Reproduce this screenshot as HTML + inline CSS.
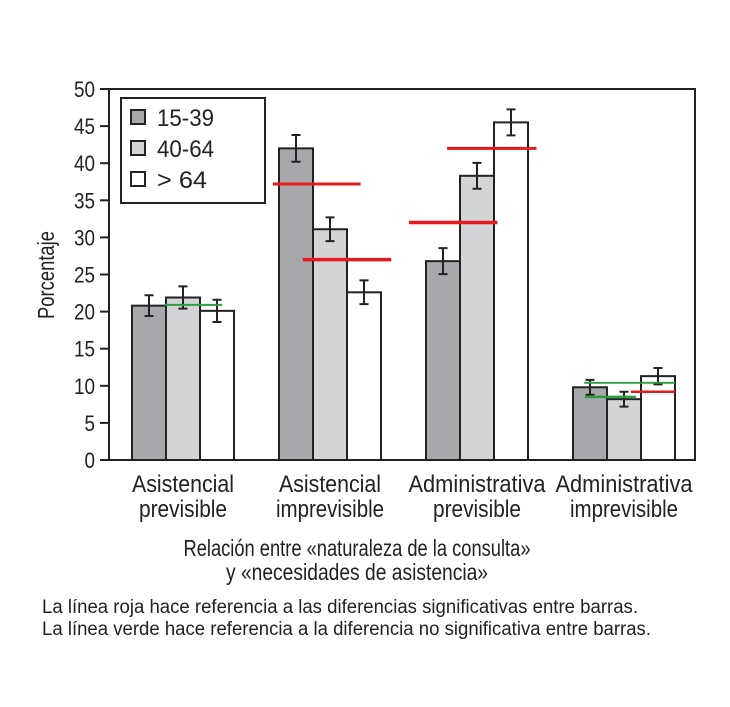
<!DOCTYPE html>
<html><head><meta charset="utf-8"><style>
html,body{margin:0;padding:0;background:#fff;}
svg{display:block;font-family:"Liberation Sans",sans-serif;}
</style></head><body>
<svg id="chart" width="730" height="707" viewBox="0 0 730 707">
<g id="marks"></g>
<g id="texts"></g>
</svg>
<script>
const categories=[["Asistencial","previsible"],["Asistencial","imprevisible"],["Administrativa","previsible"],["Administrativa","imprevisible"]];
const series=["15-39","40-64","> 64"];
const v1539=[20.8,42.0,26.8,9.8];
const v4064=[21.9,31.1,38.3,8.2];
const v64=[20.1,22.6,45.5,11.3];
const e1539=[1.4,1.8,1.75,1.0];
const e4064=[1.5,1.6,1.75,1.0];
const e64=[1.5,1.6,1.75,1.1];
const yTicks=[0,5,10,15,20,25,30,35,40,45,50];
const sigGroup=[0,1,1,2,2,3,3,3];
const sigValue=[20.9,37.2,27.0,32.0,42.0,10.4,8.5,9.2];
const sigFrom=[0.95,-0.18,0.7,-0.5,0.62,0.33,0.35,1.7];
const sigTo=[2.65,2.4,3.3,2.1,3.25,3.0,1.85,3.0];
const sigColor=["#2a9d45","#e8191c","#e8191c","#e8191c","#e8191c","#2a9d45","#2a9d45","#e8191c"];
const sigWidth=[2,3,3.5,3.5,3,1.8,2.5,2.5];

const NS="http://www.w3.org/2000/svg";
const X0=109,X1=695,Y0=460,Y1=89;
const y=v=>Y0-(v/50)*(Y0-Y1);
const groupStart=[132,279,426,573];
const BW=34;
const gx=(g,off)=>groupStart[g]+off*BW;
const marks=document.getElementById('marks');
const texts=document.getElementById('texts');
function mk(tag,attrs,parent){const e=document.createElementNS(NS,tag);for(const k in attrs)e.setAttribute(k,attrs[k]);parent.appendChild(e);return e;}

const fr=mk('rect',{x:X0,y:Y1,width:X1-X0,height:Y0-Y1,fill:'none',stroke:'#222','stroke-width':2},marks);


yTicks.forEach(t=>{
  const l=mk('line',{x1:100,x2:X0,y1:y(t),y2:y(t),stroke:'#222','stroke-width':2},marks);
  
  
  const tx=mk('text',{x:95,y:y(t)+8,'text-anchor':'end','font-size':22,fill:'#222',textLength:String(t).length*10.5,lengthAdjust:'spacingAndGlyphs'},texts);
  tx.textContent=t;
  
  
});
const vals=[v1539,v4064,v64],errs=[e1539,e4064,e64],fills=['#a7a8ab','#d3d4d6','#ffffff'];
for(let g=0;g<4;g++){
  for(let s=0;s<3;s++){
    const v=vals[s][g],e=errs[s][g],x=gx(g,s);
    const r=mk('rect',{x:x,y:y(v),width:BW,height:Y0-y(v),fill:fills[s],stroke:'#222','stroke-width':2},marks);
    
    
    const cx=x+BW/2;
    const eb=mk('path',{d:`M${cx},${y(v+e)}V${y(v-e)}M${cx-4.5},${y(v+e)}H${cx+4.5}M${cx-4.5},${y(v-e)}H${cx+4.5}`,stroke:'#222','stroke-width':2,fill:'none'},marks);
    
    
  }
}
for(let i=0;i<sigValue.length;i++){
  const l=mk('line',{x1:gx(sigGroup[i],sigFrom[i]),x2:gx(sigGroup[i],sigTo[i]),y1:y(sigValue[i]),y2:y(sigValue[i]),stroke:sigColor[i],'stroke-width':sigWidth[i]},marks);
  
  
}
const labW=[[102,88],[102,108],[137,88],[137,108]];
categories.forEach((c,g)=>{
  const cx=gx(g,1.5);
  c.forEach((t,k)=>{
    const tx=mk('text',{x:cx,y:492+k*25,'text-anchor':'middle','font-size':24,fill:'#222',textLength:labW[g][k],lengthAdjust:'spacingAndGlyphs'},texts);
    tx.textContent=t;
    
    
  });
});
</script>
<script>
(function(){
const NS="http://www.w3.org/2000/svg";
const svg=document.getElementById('chart');
function t(txt,attrs,name){const e=document.createElementNS(NS,'text');for(const k in attrs)e.setAttribute(k,attrs[k]);e.textContent=txt;e.setAttribute('fill','#222');svg.appendChild(e);return e;}
t("Relación entre «naturaleza de la consulta»",{x:357,y:556,'text-anchor':'middle','font-size':23,textLength:347,lengthAdjust:'spacingAndGlyphs'},'x-axis-title');
t("y «necesidades de asistencia»",{x:357,y:580,'text-anchor':'middle','font-size':23,textLength:262,lengthAdjust:'spacingAndGlyphs'},'x-axis-title-line2');
t("Porcentaje",{x:0,y:0,'text-anchor':'middle','font-size':23,textLength:88,lengthAdjust:'spacingAndGlyphs',transform:'translate(54,275) rotate(-90)'},'y-axis-title');
t("La línea roja hace referencia a las diferencias significativas entre barras.",{x:42,y:613,'font-size':19,textLength:596,lengthAdjust:'spacingAndGlyphs'},'footnote-red');
t("La línea verde hace referencia a la diferencia no significativa entre barras.",{x:42,y:635,'font-size':19,textLength:609,lengthAdjust:'spacingAndGlyphs'},'footnote-green');
const lg=document.createElementNS(NS,'g');svg.appendChild(lg);
const box=document.createElementNS(NS,'rect');
[['x',121],['y',98],['width',144],['height',105],['fill','#fff'],['stroke','#222'],['stroke-width',2]].forEach(a=>box.setAttribute(a[0],a[1]));
lg.appendChild(box);
const labs=["15-39","40-64","> 64"],fills=['#a7a8ab','#d3d4d6','#ffffff'],ws=[57,57,50];
labs.forEach((l,i)=>{
  const r=document.createElementNS(NS,'rect');
  [['x',131],['y',110+i*31],['width',14],['height',14],['fill',fills[i]],['stroke','#222'],['stroke-width',2]].forEach(a=>r.setAttribute(a[0],a[1]));
  lg.appendChild(r);
  const tx=document.createElementNS(NS,'text');
  [['x',157],['y',126+i*31],['font-size',24],['fill','#222'],['textLength',ws[i]],['lengthAdjust','spacingAndGlyphs']].forEach(a=>tx.setAttribute(a[0],a[1]));
  tx.textContent=l;lg.appendChild(tx);
});
})();
</script>
</body></html>
